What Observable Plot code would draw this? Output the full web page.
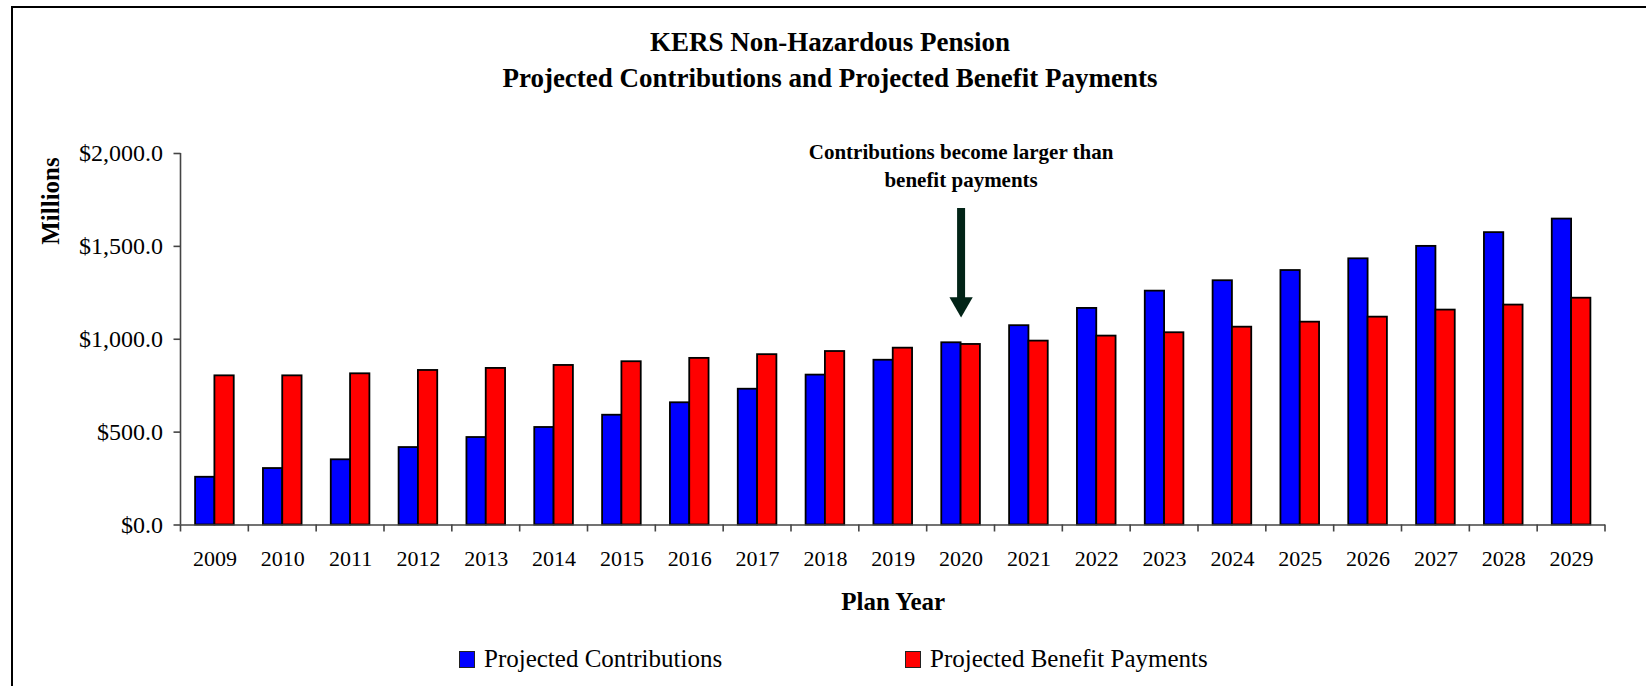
<!DOCTYPE html>
<html>
<head>
<meta charset="utf-8">
<script src="https://cdn.jsdelivr.net/npm/d3@7"></script>
<script src="https://cdn.jsdelivr.net/npm/@observablehq/plot@0.6"></script>
<style>
  html, body { margin: 0; padding: 0; background: #fff; }
  #wrap { position: relative; width: 1646px; height: 686px; overflow: hidden;
          font-family: "Liberation Serif", "Times New Roman", serif; color: #000; }
  #border { position: absolute; left: 10.5px; top: 6px; width: 1800px; height: 900px;
            border-left: 2px solid #000; border-top: 2px solid #000; box-sizing: border-box; }
  .title { position: absolute; left: 0; width: 1660px; text-align: center; font-weight: bold;
           font-family: "Liberation Serif", "Times New Roman", serif;
           font-size: 27px; line-height: 36px; white-space: nowrap; }
  #ylabel { position: absolute; left: -49px; top: 186px; width: 200px; height: 30px; line-height: 30px;
            font-family: "Liberation Serif", "Times New Roman", serif;
            text-align: center; font-weight: bold; font-size: 25px; transform: rotate(-90deg); }
  #chart { position: absolute; left: 0; top: 100px; }
  .sw { position: absolute; width: 14px; height: 15px; border: 1.5px solid #222; }
  .lt { position: absolute; font-family: "Liberation Serif", "Times New Roman", serif;
        font-size: 25px; line-height: 30px; white-space: nowrap; }
</style>
</head>
<body>
<div id="wrap">
  <div id="border"></div>
  <div class="title" style="top:24px">KERS Non-Hazardous Pension</div>
  <div class="title" style="top:60px">Projected Contributions and Projected Benefit Payments</div>
  <div id="ylabel">Millions</div>
  <div id="chart"></div>
  <div class="sw" style="left:459px;top:651px;background:#0000ff"></div>
  <div class="lt" style="left:484px;top:644px">Projected Contributions</div>
  <div class="sw" style="left:905px;top:651px;background:#ff0000"></div>
  <div class="lt" style="left:930px;top:644px">Projected Benefit Payments</div>
</div>
<script>
// ---- data (millions of dollars) ----
const years = ["2009","2010","2011","2012","2013","2014","2015","2016","2017","2018","2019",
               "2020","2021","2022","2023","2024","2025","2026","2027","2028","2029"];
const contributions = [257, 304, 351, 417, 471, 525, 591, 658, 731, 807, 887,
                       981, 1073, 1166, 1259, 1315, 1370, 1433, 1500, 1574, 1647];
const benefits = [803, 803, 814, 832, 843, 859, 879, 897, 917, 934, 952,
                  972, 990, 1017, 1035, 1065, 1092, 1119, 1157, 1184, 1221];
const yTicks = [0, 500, 1000, 1500, 2000];
const annotationText = ["Contributions become larger than\nbenefit payments"];
const annotationYear = ["2020"];
const annotationTextY = [1941];
const arrowTop = [1704];
const arrowShaftEnd = [1215];
const arrowHeadY = [1190];

const rows = years.map((year, i) => ({year, contrib: contributions[i], benefit: benefits[i]}));
const annotation = [{year: annotationYear[0], text: annotationText[0], ty: annotationTextY[0],
                     top: arrowTop[0], end: arrowShaftEnd[0], head: arrowHeadY[0]}];

const fmt = d => "$" + d3.format(",.1f")(d);
const axisColor = "#444";

// y axis line along the left of the frame
function yAxisLine(index, scales, values, dims) {
  const g = d3.create("svg:g");
  g.append("line")
    .attr("x1", dims.marginLeft).attr("x2", dims.marginLeft)
    .attr("y1", scales.y(yTicks[yTicks.length - 1])).attr("y2", scales.y(0))
    .attr("stroke", axisColor).attr("stroke-width", 1.6);
  return g.node();
}
// category-boundary ticks on the x axis (Excel style)
function xBoundaryTicks(index, scales, values, dims) {
  const x = scales.x, y0 = scales.y(0);
  const bounds = years.map(d => x(d)).concat([x(years[years.length - 1]) + x.bandwidth()]);
  const g = d3.create("svg:g");
  g.selectAll("line").data(bounds).join("line")
    .attr("x1", d => d).attr("x2", d => d)
    .attr("y1", y0).attr("y2", y0 + 7)
    .attr("stroke", axisColor).attr("stroke-width", 1.6);
  return g.node();
}

const chart = Plot.plot({
  width: 1646,
  height: 520,
  marginLeft: 180.5,
  marginRight: 41,
  marginTop: 53,
  marginBottom: 95.5,
  style: {fontFamily: "'Liberation Serif', 'Times New Roman', serif", color: "#000", background: "transparent", overflow: "visible"},
  x: {type: "band", domain: years, padding: 0, round: false},
  y: {domain: [0, 2000]},
  marks: [
    Plot.barY(rows, {x: "year", y: "contrib", fill: "#0000ff", stroke: "#000", strokeWidth: 1.8,
                     insetLeft: 14.6, insetRight: 33.9}),
    Plot.barY(rows, {x: "year", y: "benefit", fill: "#ff0000", stroke: "#000", strokeWidth: 1.8,
                     insetLeft: 33.9, insetRight: 14.6}),
    Plot.ruleY([0], {stroke: axisColor, strokeWidth: 1.6}),
    yAxisLine,
    xBoundaryTicks,
    Plot.axisY({ticks: yTicks, tickFormat: fmt, tickSize: 7, tickPadding: 11, fontSize: 24,
                label: null, stroke: axisColor, strokeWidth: 1.6}),
    Plot.axisX({tickSize: 0, tickPadding: 25, fontSize: 22, label: null}),
    Plot.text(["Plan Year"], {frameAnchor: "bottom", dy: 76.5, fontWeight: "bold", fontSize: 25, lineAnchor: "middle"}),
    Plot.ruleX(annotation, {x: "year", y1: "top", y2: "end", stroke: "#022417", strokeWidth: 8}),
    Plot.dot(annotation, {x: "year", y: "head", symbol: "triangle", rotate: 180, r: 8.65, fill: "#022417", stroke: null}),
    Plot.text(annotation, {x: "year", y: "ty", text: "text", fontWeight: "bold", fontSize: 21,
                           lineHeight: 1.33, lineAnchor: "middle", fill: "#000"})
  ]
});
document.getElementById("chart").appendChild(chart);
</script>
</body>
</html>
